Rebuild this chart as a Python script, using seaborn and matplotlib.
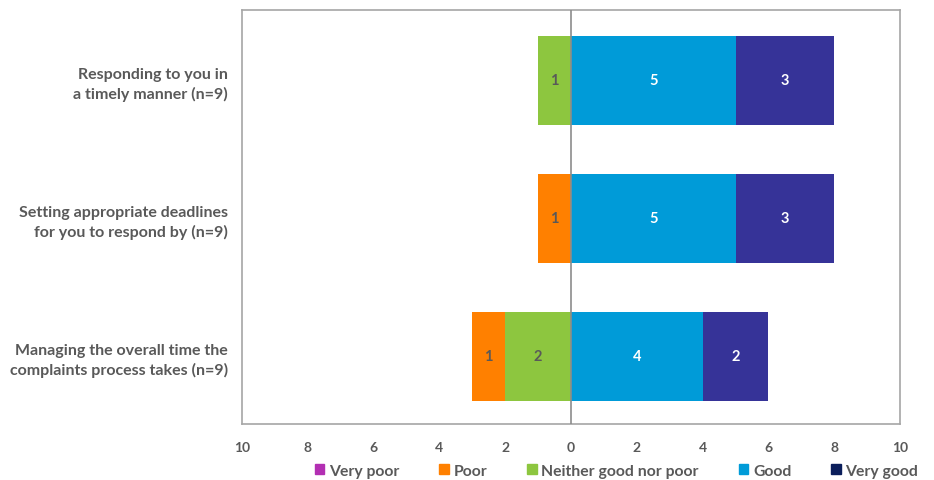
import matplotlib
matplotlib.use("Agg")
import matplotlib.pyplot as plt
import matplotlib.patches as mpatches
import seaborn as sns
import pandas as pd
import numpy as np

categories = [
    "Responding to you in\na timely manner (n=9)",
    "Setting appropriate deadlines\nfor you to respond by (n=9)",
    "Managing the overall time the\ncomplaints process takes (n=9)",
]
very_poor = [0, 0, 0]
poor = [0, 1, 1]
neither = [1, 0, 2]
good = [5, 5, 4]
very_good = [3, 3, 2]

series_names = ["Very poor", "Poor", "Neither good nor poor", "Good", "Very good"]
bar_colors = {
    "Very poor": "#B22FB2",
    "Poor": "#FF8000",
    "Neither good nor poor": "#8DC63F",
    "Good": "#009BD8",
    "Very good": "#363398",
}
legend_colors = {
    "Very poor": "#B22FB2",
    "Poor": "#FF8000",
    "Neither good nor poor": "#8DC63F",
    "Good": "#009BD8",
    "Very good": "#0B1E5B",
}
tick_values = [-10, -8, -6, -4, -2, 0, 2, 4, 6, 8, 10]
tick_labels = ["10", "8", "6", "4", "2", "0", "2", "4", "6", "8", "10"]

text_gray = "#595959"
font = "Lato"

sns.set_theme(style="white")
plt.rcParams["font.family"] = [font, "DejaVu Sans"]

vp = np.array(very_poor)
po = np.array(poor)
ne = np.array(neither)
go = np.array(good)
vg = np.array(very_good)

fig = plt.figure(figsize=(9.34, 4.81), dpi=100)
ax = fig.add_axes([242 / 934, 1 - 425 / 481, 658 / 934, 414 / 481])

# Diverging stack: outermost totals first, inner segments drawn on top
layers = [
    ("Very good", go + vg),
    ("Good", go),
    ("Very poor", -(ne + po + vp)),
    ("Poor", -(ne + po)),
    ("Neither good nor poor", -ne),
]
for name, vals in layers:
    df = pd.DataFrame({"category": categories, "value": vals})
    sns.barplot(data=df, x="value", y="category", orient="h", color=bar_colors[name],
                width=0.64, saturation=1, ax=ax, linewidth=0)

# Segment value labels
def put_labels(starts, widths, color):
    for i, (s, w) in enumerate(zip(starts, widths)):
        if w > 0:
            ax.text(s + w / 2, i, f"{w}", ha="center", va="center", color=color,
                    fontsize=10.5, fontweight="bold")

put_labels(-ne, ne, text_gray)
put_labels(-(ne + po), po, text_gray)
put_labels(-(ne + po + vp), vp, text_gray)
put_labels(np.zeros(3), go, "white")
put_labels(go, vg, "white")

ax.axvline(0, color="#8C8C8C", linewidth=1.2, zorder=5)

ax.set_xlim(-10, 10)
ax.set_ylim(2.49, -0.51)
ax.set_xticks(tick_values)
ax.set_xticklabels(tick_labels)
ax.set_xlabel("")
ax.set_ylabel("")
ax.tick_params(axis="x", length=0, pad=12, labelsize=10, labelcolor=text_gray)
ax.tick_params(axis="y", length=0, pad=10, labelsize=11.5, labelcolor=text_gray)
for lbl in ax.get_xticklabels() + ax.get_yticklabels():
    lbl.set_fontweight("bold")
for lbl in ax.get_yticklabels():
    lbl.set_horizontalalignment("right")
    lbl.set_multialignment("right")
    lbl.set_linespacing(1.4)
for sp in ax.spines.values():
    sp.set_visible(True)
    sp.set_color("#A6A6A6")
    sp.set_linewidth(1.2)

handles = [mpatches.Patch(color=legend_colors[n], label=n) for n in series_names]
leg = fig.legend(handles=handles, loc="center", bbox_to_anchor=(616.5 / 934, 1 - 472 / 481),
                 ncol=5, frameon=False, fontsize=11.3, handlelength=0.6, handleheight=0.6,
                 handletextpad=0.3, columnspacing=2.55, borderaxespad=0, borderpad=0)
for t in leg.get_texts():
    t.set_color(text_gray)
    t.set_fontweight("bold")

fig.savefig("out.png", dpi=100)
